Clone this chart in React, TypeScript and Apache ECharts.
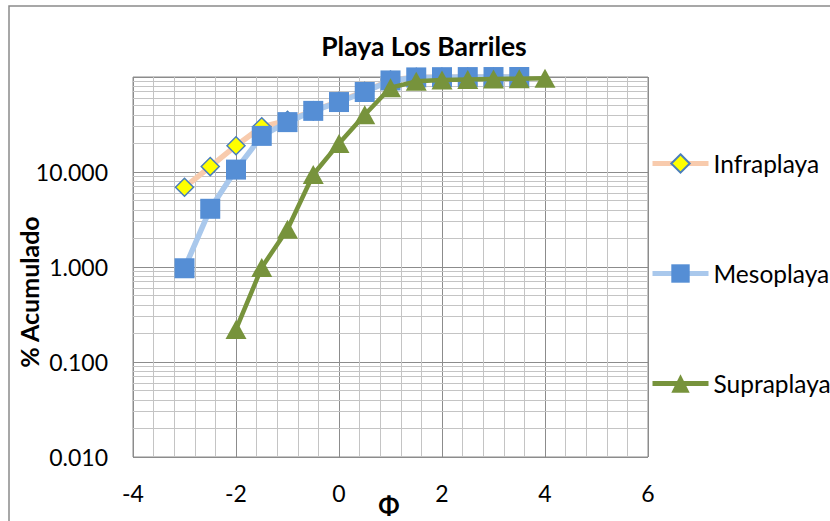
import React, { useEffect, useRef } from "react";
import * as echarts from "echarts";

const phi = [-3, -2.5, -2, -1.5, -1, -0.5, 0, 0.5, 1, 1.5, 2, 2.5, 3, 3.5, 4];
const infraplaya = [6.9, 11.4, 18.9, 29.9, 35, 44, 55.5, 70.5, 93, 99.2, 99.6, 99.8, 99.9, 100];
const mesoplaya = [0.97, 4.1, 10.6, 24, 33.5, 44, 54.5, 69.5, 92, 99, 99.6, 99.8, 99.9, 100];
const supraplaya = [null, null, 0.22, 0.99, 2.5, 9.4, 20, 40, 77, 90, 93, 94, 95, 96, 97];
const minorY = [
  0.02, 0.03, 0.04, 0.05, 0.06, 0.07, 0.08, 0.09,
  0.2, 0.3, 0.4, 0.5, 0.6, 0.7, 0.8, 0.9,
  2, 3, 4, 5, 6, 7, 8, 9,
  20, 30, 40, 50, 60, 70, 80, 90,
];
const xTicks = { min: -4, max: 6, interval: 2 };

const FONT = "Lato";
const COLORS = {
  infraLine: "#F8CBAD",
  mesoLine: "#A9C8EC",
  supraLine: "#77933C",
};

function pairs(values: (number | null)[]) {
  const out: (number | null)[][] = [];
  values.forEach((v, i) => {
    if (v !== null && v !== undefined) out.push([phi[i], v]);
  });
  return out;
}

export default function App() {
  const ref = useRef<HTMLDivElement>(null);
  useEffect(() => {
    if (!ref.current) return;
    const chart = echarts.init(ref.current, null, { renderer: "svg" });
    chart.setOption({
      animation: false,
      backgroundColor: "#ffffff",
      textStyle: { fontFamily: FONT },
      grid: {
        left: 133,
        top: 77,
        width: 515,
        height: 380,
        outerBoundsMode: "none",
        containLabel: false,
        show: true,
        borderColor: "#8c8c8c",
        borderWidth: 1,
        backgroundColor: "transparent",
      },
      legend: {
        data: [
          { name: "Infraplaya", lineStyle: { width: 5, color: COLORS.infraLine } },
          { name: "Mesoplaya", lineStyle: { width: 5, color: COLORS.mesoLine } },
          { name: "Supraplaya", lineStyle: { width: 5, color: COLORS.supraLine } },
        ],
        orient: "vertical",
        left: 650,
        top: 151,
        padding: 0,
        itemWidth: 56,
        itemHeight: 23,
        itemGap: 85,
        textStyle: { fontFamily: FONT, fontSize: 24.5, color: "#000" },
      },
      graphic: [
        {
          type: "rect",
          shape: { x: 9, y: 6, width: 840, height: 540 },
          style: { fill: "none", stroke: "#8a8a8a", lineWidth: 1.5 },
          silent: true,
        },
        {
          type: "text",
          x: 424,
          y: 46,
          style: {
            text: "Playa Los Barriles",
            fontFamily: FONT,
            fontWeight: "bold",
            fontSize: 26.5,
            fill: "#000",
            textAlign: "center",
            textVerticalAlign: "middle",
          },
        },
        {
          type: "text",
          x: 29,
          y: 292,
          rotation: Math.PI / 2,
          style: {
            text: "% Acumulado",
            fontFamily: FONT,
            fontWeight: "bold",
            fontSize: 25,
            fill: "#000",
            textAlign: "center",
            textVerticalAlign: "middle",
          },
        },
        {
          type: "text",
          x: 389,
          y: 505,
          style: {
            text: "Φ",
            fontFamily: FONT,
            fontWeight: "bold",
            fontSize: 25,
            fill: "#000",
            textAlign: "center",
            textVerticalAlign: "middle",
          },
        },
      ],
      xAxis: {
        type: "value",
        min: xTicks.min,
        max: xTicks.max,
        interval: xTicks.interval,
        axisLine: { show: false },
        axisTick: { show: false },
        axisLabel: { fontFamily: FONT, fontSize: 23, color: "#000", margin: 24 },
        splitLine: { show: true, lineStyle: { color: "#8c8c8c", width: 1 } },
        minorTick: { show: false, splitNumber: 5 },
        minorSplitLine: { show: true, lineStyle: { color: "#c4c4c4", width: 1 } },
      },
      yAxis: {
        type: "log",
        logBase: 10,
        min: 0.01,
        max: 100,
        axisLine: { show: false },
        axisTick: { show: false },
        axisLabel: {
          fontFamily: FONT,
          fontSize: 23,
          color: "#000",
          margin: 25,
          formatter: (v: number) => (v >= 99 ? "" : v.toFixed(3)),
        },
        splitLine: { show: true, lineStyle: { color: "#8c8c8c", width: 1 } },
      },
      series: [
        {
          name: "minor",
          type: "line",
          data: [],
          silent: true,
          markLine: {
            silent: true,
            z: 1,
            symbol: ["none", "none"],
            label: { show: false },
            lineStyle: { color: "#c4c4c4", width: 1, type: "solid" },
            emphasis: { disabled: true },
            data: minorY.map((v) => ({ yAxis: v })),
          },
        },
        {
          name: "Infraplaya",
          type: "line",
          data: pairs(infraplaya),
          clip: false,
          z: 3,
          symbol: "diamond",
          symbolSize: 18,
          lineStyle: { color: COLORS.infraLine, width: 5.5 },
          itemStyle: { color: "#FFFF00", borderColor: "#4A7EBB", borderWidth: 1.5 },
        },
        {
          name: "Mesoplaya",
          type: "line",
          data: pairs(mesoplaya),
          clip: false,
          z: 4,
          symbol: "rect",
          symbolSize: 20,
          lineStyle: { color: COLORS.mesoLine, width: 5.5 },
          itemStyle: { color: "#558ED5" },
        },
        {
          name: "Supraplaya",
          type: "line",
          data: pairs(supraplaya),
          clip: false,
          z: 5,
          symbol: "triangle",
          symbolSize: [21, 19],
          lineStyle: { color: COLORS.supraLine, width: 4.5 },
          itemStyle: { color: "#77933C" },
        },
      ],
    });
    return () => chart.dispose();
  }, []);
  return (
    <div
      ref={ref}
      style={{ position: "fixed", left: 0, top: 0, width: 830, height: 521 }}
    />
  );
}
